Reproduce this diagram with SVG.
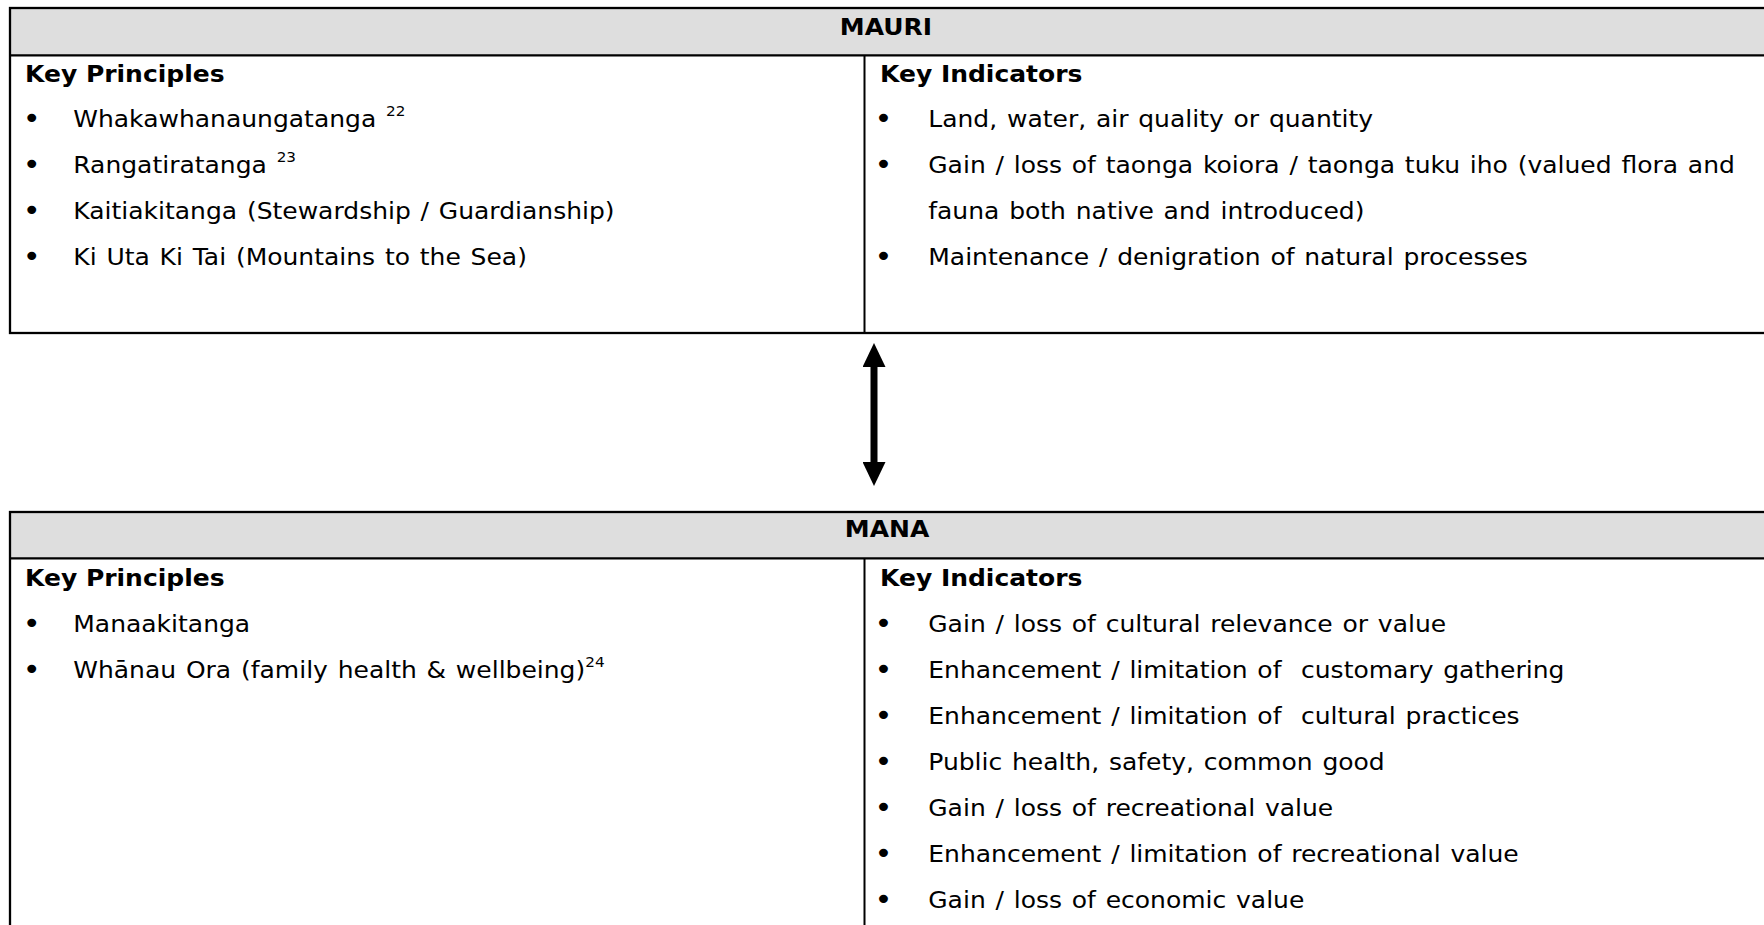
<svg xmlns="http://www.w3.org/2000/svg" width="1764" height="925" viewBox="0 0 1764 925">
  <style>
    text { font-family: "DejaVu Sans", Verdana, "Liberation Sans", sans-serif; font-size: 23px; fill: #000; white-space: pre; word-spacing: 1.7px; }
    .title { font-weight: bold; text-anchor: middle; }
    .head { font-weight: bold; word-spacing: 0; }
    .bullet { text-anchor: middle; font-size: 28px; }
    .sup { font-size: 14px; }
    .frame { fill: none; stroke: #000; stroke-width: 2.3; }
    .band { fill: #dedede; }
    .rule { stroke: #000; stroke-width: 2.3; }
    .divider { stroke: #000; stroke-width: 2; }
    .link { stroke: #000; stroke-width: 7; fill: none; }
  </style>
  <defs>
    <marker id="head" markerUnits="userSpaceOnUse" markerWidth="24" markerHeight="23" viewBox="0 0 24 23" refX="0" refY="11.5" orient="auto-start-reverse">
      <path d="M0,0 L24,11.5 L0,23 Z" fill="#000"/>
    </marker>
  </defs>
  <rect width="1764" height="925" fill="#fff"/>

  <!-- MAURI panel -->
  <g id="mauri">
    <rect class="band" x="10" y="8" width="1790" height="47"/>
    <rect class="frame" x="10" y="8" width="1790" height="325"/>
    <line class="rule" x1="10" y1="55.3" x2="1800" y2="55.3"/>
    <line class="divider" x1="864.5" y1="55" x2="864.5" y2="333"/>
    <g transform="translate(886,0) scale(1.087,1)">
      <text class="title" x="0" y="35">MAURI</text>
    </g>
    <g id="mauri-principles" transform="translate(25,0) scale(1.087,1)">
      <text class="head" x="0" y="82">Key Principles</text>
      <text class="bullet" x="6.2" y="128.5">•</text>
      <text x="44.4" y="127">Whakawhanaungatanga <tspan class="sup" dy="-11">22</tspan></text>
      <text class="bullet" x="6.2" y="174.5">•</text>
      <text x="44.4" y="173">Rangatiratanga <tspan class="sup" dy="-11">23</tspan></text>
      <text class="bullet" x="6.2" y="220.5">•</text>
      <text x="44.4" y="219">Kaitiakitanga (Stewardship / Guardianship)</text>
      <text class="bullet" x="6.2" y="266.5">•</text>
      <text x="44.4" y="265">Ki Uta Ki Tai (Mountains to the Sea)</text>
    </g>
    <g id="mauri-indicators" transform="translate(880,0) scale(1.087,1)">
      <text class="head" x="0" y="82">Key Indicators</text>
      <text class="bullet" x="3.3" y="128.5">•</text>
      <text x="44.4" y="127">Land, water, air quality or quantity</text>
      <text class="bullet" x="3.3" y="174.5">•</text>
      <text x="44.4" y="173">Gain / loss of taonga koiora / taonga tuku iho (valued flora and</text>
      <text x="44.4" y="219">fauna both native and introduced)</text>
      <text class="bullet" x="3.3" y="266.5">•</text>
      <text x="44.4" y="265">Maintenance / denigration of natural processes</text>
    </g>
  </g>

  <!-- MANA panel -->
  <g id="mana">
    <rect class="band" x="10" y="512" width="1790" height="46"/>
    <rect class="frame" x="10" y="512" width="1790" height="440"/>
    <line class="rule" x1="10" y1="558.3" x2="1800" y2="558.3"/>
    <line class="divider" x1="864.5" y1="558" x2="864.5" y2="952"/>
    <g transform="translate(887,0) scale(1.087,1)">
      <text class="title" x="0" y="537">MANA</text>
    </g>
    <g id="mana-principles" transform="translate(25,0) scale(1.087,1)">
      <text class="head" x="0" y="586">Key Principles</text>
      <text class="bullet" x="6.2" y="633.5">•</text>
      <text x="44.4" y="632">Manaakitanga</text>
      <text class="bullet" x="6.2" y="679.5">•</text>
      <text x="44.4" y="678">Whānau Ora (family health &amp; wellbeing)<tspan class="sup" dy="-11">24</tspan></text>
    </g>
    <g id="mana-indicators" transform="translate(880,0) scale(1.087,1)">
      <text class="head" x="0" y="586">Key Indicators</text>
      <text class="bullet" x="3.3" y="633.5">•</text>
      <text x="44.4" y="632">Gain / loss of cultural relevance or value</text>
      <text class="bullet" x="3.3" y="679.5">•</text>
      <text x="44.4" y="678">Enhancement / limitation of  customary gathering</text>
      <text class="bullet" x="3.3" y="725.5">•</text>
      <text x="44.4" y="724">Enhancement / limitation of  cultural practices</text>
      <text class="bullet" x="3.3" y="771.5">•</text>
      <text x="44.4" y="770">Public health, safety, common good</text>
      <text class="bullet" x="3.3" y="817.5">•</text>
      <text x="44.4" y="816">Gain / loss of recreational value</text>
      <text class="bullet" x="3.3" y="863.5">•</text>
      <text x="44.4" y="862">Enhancement / limitation of recreational value</text>
      <text class="bullet" x="3.3" y="909.5">•</text>
      <text x="44.4" y="908">Gain / loss of economic value</text>
    </g>
  </g>

  <!-- two-way link between the panels -->
  <g id="connectors">
    <line class="link" x1="874" y1="367" x2="874" y2="462" marker-start="url(#head)" marker-end="url(#head)"/>
  </g>
</svg>
